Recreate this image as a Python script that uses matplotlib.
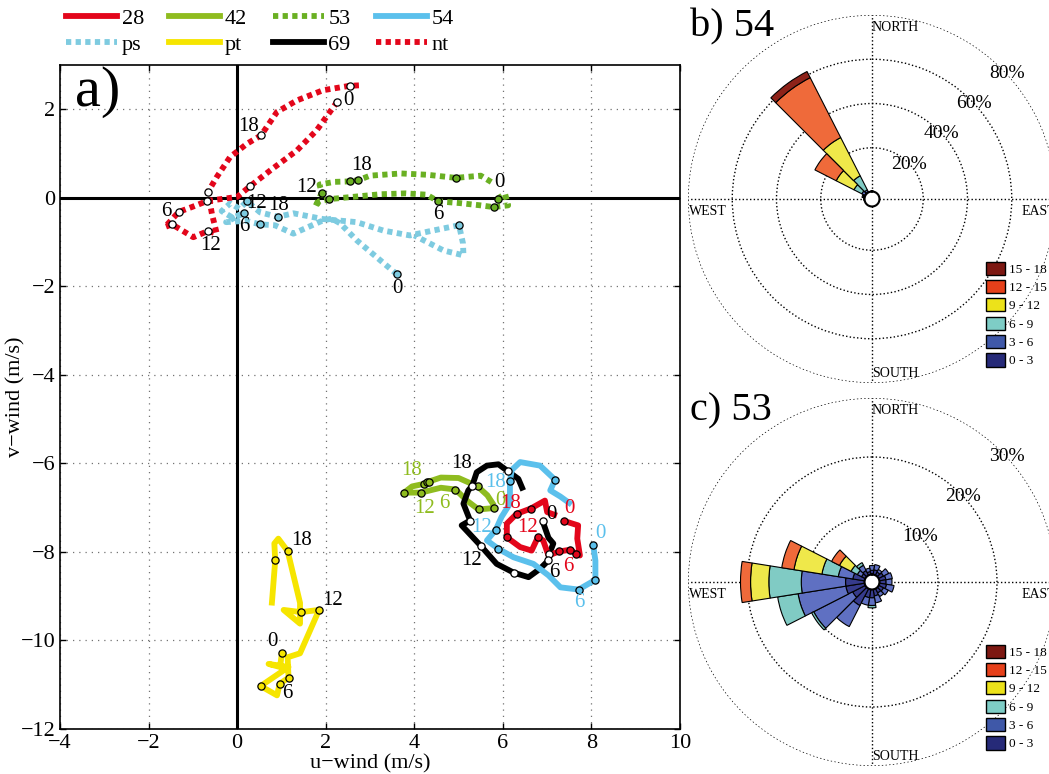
import numpy as np
import matplotlib.pyplot as plt
from matplotlib.lines import Line2D
from matplotlib.patches import Patch

plt.rcParams['font.family'] = ['Liberation Serif', 'DejaVu Serif']

# ---- hodographs: u, v (m/s) along the day, marker indices every ~3 h ----
u28 = [7.38, 7.70, 7.68, 7.74, 7.65, 7.52, 7.27, 7.03, 6.91, 6.79, 6.65, 6.39, 6.09, 6.09, 6.31, 6.63, 6.95, 7.00, 7.22]
v28 = [-7.30, -7.40, -7.70, -8.08, -8.04, -7.95, -7.99, -8.08, -7.74, -7.67, -7.97, -7.89, -7.67, -7.36, -7.14, -7.02, -6.84, -7.10, -7.18]
m28 = [0, 4, 5, 6, 9, 12, 14, 15]

u42 = [5.79, 5.45, 5.20, 4.93, 4.60, 4.15, 3.77, 3.95, 4.23, 4.28, 4.33, 4.60, 5.00, 5.43, 5.65, 5.80]
v42 = [-7.01, -7.04, -6.85, -6.59, -6.55, -6.66, -6.66, -6.52, -6.46, -6.43, -6.41, -6.32, -6.33, -6.52, -6.72, -6.95]
m42 = [0, 1, 3, 5, 6, 8, 9, 10, 13]

u53 = [5.88, 6.05, 6.12, 5.79, 5.49, 5.03, 4.54, 4.28, 3.80, 3.23, 2.60, 2.08, 1.85, 1.76, 1.91, 1.86, 2.20, 2.54, 2.74, 3.00, 3.70, 4.30, 4.94, 5.50, 5.75]
v53 = [-0.02, 0.09, -0.17, -0.21, -0.17, -0.12, -0.08, 0.07, 0.10, 0.08, 0.02, -0.03, -0.08, -0.21, 0.11, 0.30, 0.36, 0.37, 0.40, 0.50, 0.55, 0.52, 0.45, 0.50, 0.35]
m53 = [0, 3, 6, 11, 14, 17, 18, 22]

u54 = [8.04, 8.09, 8.09, 7.71, 7.30, 7.03, 6.69, 6.24, 5.90, 5.64, 5.84, 5.97, 6.16, 6.16, 6.20, 6.39, 6.84, 7.18, 7.07, 7.30, 7.55]
v54 = [-7.84, -8.20, -8.63, -8.85, -8.80, -8.53, -8.27, -8.12, -7.93, -7.74, -7.50, -7.21, -6.91, -6.40, -6.15, -5.97, -6.05, -6.37, -6.61, -6.75, -6.93]
m54 = [0, 2, 3, 8, 10, 13, 17]

u_ps = [3.61, 3.23, 2.70, 2.33, 2.14, 1.94, 1.27, 0.85, 0.52, 0.20, -0.25, 0.16, -0.10, -0.35, -0.15, 0.05, 0.22, 0.52, 0.92, 1.27, 1.94, 2.70, 3.30, 3.90, 4.42, 5.01, 5.10, 5.11, 4.66, 4.00]
v_ps = [-1.73, -1.41, -0.96, -0.58, -0.47, -0.51, -0.81, -0.62, -0.60, -0.52, -0.55, -0.34, -0.45, -0.30, -0.12, -0.25, -0.08, -0.33, -0.43, -0.35, -0.48, -0.55, -0.74, -0.85, -0.74, -0.62, -1.03, -1.30, -1.19, -0.85]
m_ps = [0, 8, 11, 16, 18, 25]

u_pt = [1.01, 0.97, 0.71, 1.16, 0.53, 0.90, 0.96, 1.16, 1.14, 1.42, 1.85, 1.44, 1.05, 1.42, 1.42, 1.14, 0.93, 0.84, 0.86, 0.78]
v_pt = [-10.28, -10.60, -10.53, -10.60, -11.03, -11.24, -10.98, -10.84, -10.38, -10.29, -9.31, -9.36, -9.31, -9.62, -9.15, -7.98, -7.70, -7.81, -8.19, -9.21]
m_pt = [0, 4, 6, 7, 10, 11, 15, 18]

u69 = [6.90, 7.03, 7.14, 7.05, 7.03, 6.84, 6.58, 6.25, 5.86, 5.50, 5.07, 5.26, 5.11, 5.22, 5.31, 5.41, 5.64, 5.90, 6.12, 6.35, 6.46]
v69 = [-7.31, -7.68, -7.81, -8.04, -8.19, -8.38, -8.57, -8.47, -8.27, -7.86, -7.40, -7.29, -6.91, -6.61, -6.50, -6.20, -6.05, -6.02, -6.18, -6.35, -6.61]
m69 = [0, 3, 4, 7, 9, 11, 14, 18]

u_nt = [2.26, 1.80, 1.35, 0.75, 0.29, 0.00, -0.67, -1.00, -1.32, -1.63, -1.47, -0.99, -0.66, -0.46, -0.57, -0.66, -0.46, -0.16, 0.22, 0.54, 0.90, 1.35, 1.94, 2.54, 2.75]
v_nt = [2.17, 1.53, 1.07, 0.62, 0.26, 0.02, -0.07, -0.20, -0.32, -0.66, -0.60, -0.89, -0.75, -0.81, -0.36, 0.13, 0.47, 0.92, 1.22, 1.41, 1.94, 2.20, 2.43, 2.53, 2.54]
m_nt = [0, 4, 6, 8, 10, 12, 15, 19, 23]

# hour labels: (text, vertex index, dx, dy in pixels)
lab28 = [('0', 0, 5, 12), ('6', 5, -2, -17), ('12', 9, -10, 10), ('18', 14, -6, 10)]
lab42 = [('0', 0, 7, 8), ('6', 3, -11, -14), ('12', 5, 4, -16), ('18', 8, -13, 13)]
lab53 = [('0', 0, 2, 16), ('6', 6, 0, -13), ('12', 14, -15, 5), ('18', 18, 3, 15)]
lab54 = [('0', 0, 7, 11), ('6', 3, 1, -13), ('12', 10, -14, 2), ('18', 13, -14, -1)]
lab_ps = [('0', 0, 0, -14), ('6', 11, 0, -14), ('12', 16, 10, -2), ('18', 18, 1, 11)]
lab_pt = [('0', 0, -9, 11), ('6', 6, 8, -10), ('12', 10, 13, 9), ('18', 15, 14, 11)]
lab69 = [('0', 0, 9, 7), ('6', 4, 6, -12), ('12', 9, -9, -15), ('18', 14, -11, 22)]
lab_nt = [('0', 0, 11, 1), ('6', 8, -12, 0), ('12', 12, 3, -15), ('18', 19, -13, 9)]

# wind rose frequencies (%) per direction sector, sectors centred every 18 deg
sectors = np.arange(0, 360, 18)
speed_bins = ['0 - 3', '3 - 6', '6 - 9', '9 - 12', '12 - 15', '15 - 18']

r54_0_3 = [0, 0, 0, 0, 0, 0, 0, 0, 0, 0, 0, 0, 0, 0, 0, 0.6, 0.8, 0.5, 0.5, 0.3]
r54_3_6 = [0, 0, 0, 0, 0, 0, 0, 0, 0, 0, 0, 0, 0, 0, 0, 0, 0.6, 1.5, 1.0, 0]
r54_6_9 = [0, 0, 0, 0, 0, 0, 0, 0, 0, 0, 0, 0, 0, 0, 0, 0, 0, 4.0, 7.1, 0]
r54_9_12 = [0, 0, 0, 0, 0, 0, 0, 0, 0, 0, 0, 0, 0, 0, 0, 0, 0, 9.0, 19.4, 0]
r54_12_15 = [0, 0, 0, 0, 0, 0, 0, 0, 0, 0, 0, 0, 0, 0, 0, 0, 0, 10.8, 30.4, 0]
r54_15_18 = [0, 0, 0, 0, 0, 0, 0, 0, 0, 0, 0, 0, 0, 0, 0, 0, 0, 0, 3.1, 0]

r53_0_3 = [0.8, 0.9, 0.7, 1.0, 1.2, 1.2, 1.3, 1.0, 0.9, 1.2, 1.5, 1.5, 3.3, 2.5, 3.3, 3.3, 2.1, 0.8, 1.0, 0.6]
r53_3_6 = [0.8, 0.9, 0.5, 1.0, 1.1, 1.0, 1.3, 0.9, 0.7, 1.2, 1.3, 1.3, 4.0, 7.4, 8.2, 7.5, 2.5, 0.8, 1.0, 0.6]
r53_6_9 = [0, 0, 0, 0, 0, 0, 0, 0, 0, 0, 0.4, 0, 0, 0.4, 3.5, 5.5, 2.8, 1.2, 0.5, 0]
r53_9_12 = [0, 0, 0, 0, 0, 0, 0, 0, 0, 0, 0, 0, 0, 0, 0, 3.1, 4.8, 2.2, 0, 0]
r53_12_15 = [0, 0, 0, 0, 0, 0, 0, 0, 0, 0, 0, 0, 0, 0, 0, 1.7, 2.1, 1.5, 0, 0]
r53_15_18 = [0] * 20

bar_colors = ['#363b8c', '#5f70c2', '#80cbc4', '#efe84a', '#ef6a3a', '#8e2219']
key_colors = ['#262a78', '#3f58a8', '#7ecdc6', '#ece21a', '#e6401a', '#7d1812']


def hodograph(ax, u, v, marks, labels, color, style, face, label_color):
    ax.plot(u, v, color=color, lw=style[0], ls=style[1],
            solid_joinstyle='round', solid_capstyle='butt', zorder=3)
    ax.plot([u[i] for i in marks], [v[i] for i in marks], 'o', ms=5.2,
            mfc=face, mec='k', mew=0.9, zorder=4)
    for txt, i, dx, dy in labels:
        ax.annotate(txt, (u[i], v[i]), xytext=(dx, dy), textcoords='offset pixels',
                    ha='center', va='center', fontsize=15, color=label_color, zorder=5)


def wind_rose(ax, bands, rmax, rticks):
    width = np.radians(18)
    theta = np.radians(sectors)
    ax.set_theta_zero_location('N')
    ax.set_theta_direction(-1)
    bottom = np.zeros(len(sectors))
    for vals, col in zip(bands, bar_colors):
        vals = np.array(vals, dtype=float)
        keep = vals > 0
        ax.bar(theta[keep], vals[keep], width=width, bottom=bottom[keep],
               color=col, edgecolor='k', linewidth=0.8, zorder=3)
        bottom += vals
    ax.set_ylim(0, rmax)
    ax.set_rorigin(-rmax * 7 / 177)
    ax.set_thetagrids([0, 90, 180, 270], labels=['', '', '', ''])
    ax.set_rgrids(rticks, labels=[''] * len(rticks))
    ax.grid(True, color='k', ls=':', lw=1.0)
    ax.spines['polar'].set_visible(False)
    ax.plot(np.linspace(0, 2 * np.pi, 120), np.zeros(120), color='k', lw=2.2, zorder=4)
    for t in rticks:
        ax.text(np.radians(47), t, '%d%%' % t, ha='center', va='center', fontsize=14, zorder=2)
    ax.text(0.5, 0.985, 'NORTH', transform=ax.transAxes, ha='left', va='top', fontsize=10)
    ax.text(0.5, 0.008, 'SOUTH', transform=ax.transAxes, ha='left', va='bottom', fontsize=10)
    ax.text(0.004, 0.485, 'WEST', transform=ax.transAxes, ha='left', va='top', fontsize=10)
    ax.text(1.0, 0.485, 'EAST', transform=ax.transAxes, ha='right', va='top', fontsize=10)
    keys = [Patch(facecolor=c, edgecolor='k', lw=1.0) for c in key_colors[::-1]]
    ax.legend(keys, speed_bins[::-1], loc='upper left', bbox_to_anchor=(0.81, 0.33),
              frameon=False, fontsize=9.5, handlelength=1.45, handleheight=1.15,
              handletextpad=0.3, labelspacing=0.33, borderpad=0, borderaxespad=0)


fig = plt.figure(figsize=(10.49, 7.74), dpi=100)
W, H = 1049, 774

ax = fig.add_axes([60 / W, 45 / H, 620 / W, 664 / H])
ax.set_xlim(-4, 10)
ax.set_ylim(-12, 3)
ax.set_xticks(np.arange(-4, 11, 2))
ax.set_yticks(np.arange(-12, 3, 2))
ax.tick_params(direction='in', top=True, right=True, labelsize=16, length=4, width=1)
ax.grid(True, color='0.45', ls=(0, (1, 4)), lw=0.9)
for s in ax.spines.values():
    s.set_linewidth(1.2)
ax.axhline(0, color='k', lw=2.2, zorder=2)
ax.axvline(0, color='k', lw=2.2, zorder=2)
ax.set_xlabel('u\u2212wind (m/s)', fontsize=16, labelpad=1)
ax.set_ylabel('v\u2212wind (m/s)', fontsize=16, labelpad=-4)
ax.text(0.024, 0.998, 'a)', transform=ax.transAxes, ha='left', va='top', fontsize=42)

solid = (4.2, '-')
dots = (4.2, (0, (0.9, 0.75)))
red, lgreen, dgreen = '#e3061b', '#8fbc1f', '#6ab023'
sky, pale, yel = '#5bc0ec', '#7ecbe0', '#f6e500'

hodograph(ax, u_ps, v_ps, m_ps, lab_ps, pale, dots, pale, 'k')
hodograph(ax, u_nt, v_nt, m_nt, lab_nt, red, dots, 'white', 'k')
hodograph(ax, u53, v53, m53, lab53, dgreen, dots, dgreen, 'k')
hodograph(ax, u_pt, v_pt, m_pt, lab_pt, yel, solid, yel, 'k')
hodograph(ax, u42, v42, m42, lab42, lgreen, solid, lgreen, lgreen)
hodograph(ax, u69, v69, m69, lab69, 'k', solid, 'white', 'k')
hodograph(ax, u54, v54, m54, lab54, sky, solid, sky, sky)
hodograph(ax, u28, v28, m28, lab28, red, solid, red, red)

handles = [
    Line2D([], [], color=red, lw=solid[0], ls=solid[1]),
    Line2D([], [], color=pale, lw=dots[0], ls=dots[1]),
    Line2D([], [], color=lgreen, lw=solid[0], ls=solid[1]),
    Line2D([], [], color=yel, lw=solid[0], ls=solid[1]),
    Line2D([], [], color=dgreen, lw=dots[0], ls=dots[1]),
    Line2D([], [], color='k', lw=solid[0], ls=solid[1]),
    Line2D([], [], color=sky, lw=solid[0], ls=solid[1]),
    Line2D([], [], color=red, lw=dots[0], ls=dots[1]),
]
names = ['28', 'ps', '42', 'pt', '53', '69', '54', 'nt']
fig.legend(handles, names, ncol=4, loc='upper left', bbox_to_anchor=(66 / W, 1 - 8 / H),
           frameon=False, fontsize=16, handlelength=2.3, handletextpad=0.2,
           columnspacing=1.15, labelspacing=0.25, borderpad=0, borderaxespad=0)

axb = fig.add_axes([688 / W, 391 / H, 368 / W, 368 / H], projection='polar')
wind_rose(axb, [r54_0_3, r54_3_6, r54_6_9, r54_9_12, r54_12_15, r54_15_18], 80, [20, 40, 60, 80])
fig.text(690 / W, 1 - 8 / H, 'b) 54', ha='left', va='top', fontsize=29)

axc = fig.add_axes([688 / W, 8 / H, 368 / W, 368 / H], projection='polar')
wind_rose(axc, [r53_0_3, r53_3_6, r53_6_9, r53_9_12, r53_12_15, r53_15_18], 30, [10, 20, 30])
fig.text(690 / W, 1 - 392 / H, 'c) 53', ha='left', va='top', fontsize=29)

fig.savefig('out.png', dpi=100)
